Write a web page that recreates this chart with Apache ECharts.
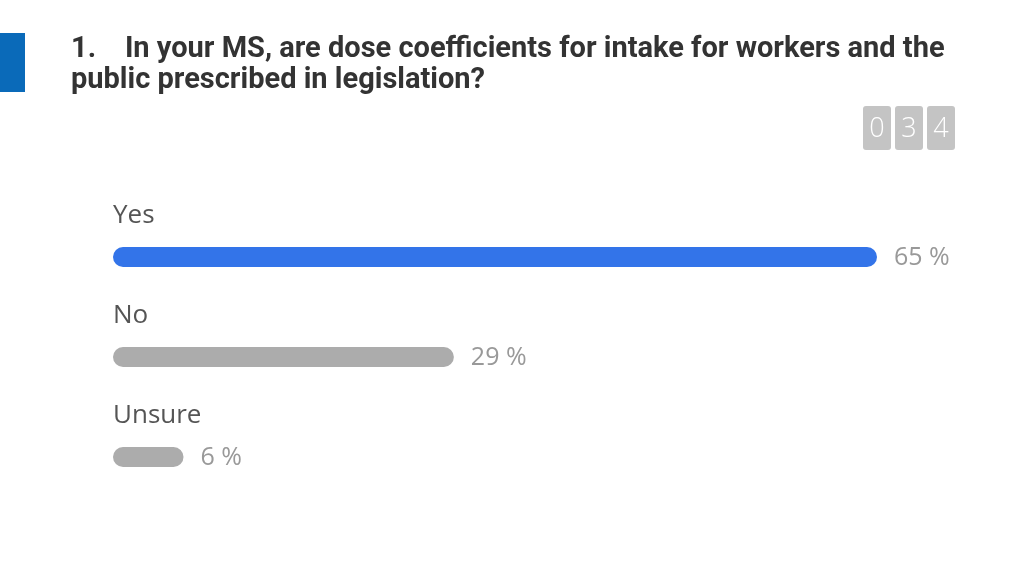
<!DOCTYPE html>
<html>
<head>
<meta charset="utf-8">
<script src="https://cdn.jsdelivr.net/npm/echarts@6/dist/echarts.min.js"></script>
<style>
  html, body { margin: 0; padding: 0; background: #fff; }
  #chart { width: 1024px; height: 576px; }
</style>
</head>
<body>
<div id="chart"></div>
<script>
const answers = ['Yes', 'No', 'Unsure'];
const shares = [65, 29, 6];
const barColors = ['#3374e9', '#acacac', '#acacac'];
const responseDigits = ['0', '3', '4'];

const chart = echarts.init(document.getElementById('chart'));

// little grey counter boxes, top right
const counter = [];
responseDigits.forEach((d, i) => {
    const x = 863 + i * 32;
    counter.push({
        type: 'rect',
        shape: { x: x, y: 106, width: 28, height: 44, r: 3 },
        style: { fill: '#c4c4c4' }
    });
    counter.push({
        type: 'text',
        x: x + 14, y: 129,
        style: {
            text: d, fill: '#fff', fontSize: 27, fontWeight: 300,
            fontFamily: 'Open Sans', align: 'center', verticalAlign: 'middle'
        }
    });
});

chart.setOption({
    animation: false,
    title: {
        text: '1.    In your MS, are dose coefficients for intake for workers and the\npublic prescribed in legislation?',
        left: 66,
        top: 29,
        textStyle: {
            fontFamily: 'Roboto',
            fontWeight: 'bold',
            fontSize: 29,
            lineHeight: 31,
            color: '#333'
        }
    },
    graphic: [
        {
            type: 'rect',
            shape: { x: 0, y: 33, width: 25, height: 59 },
            style: { fill: '#0a6ab9' }
        }
    ].concat(counter),
    grid: { left: 113, right: 147, top: 207, height: 300 },
    xAxis: {
        type: 'value',
        min: 0,
        max: 65,
        show: false
    },
    yAxis: {
        type: 'category',
        data: answers,
        inverse: true,
        axisLine: { show: false },
        axisTick: { show: false },
        axisLabel: {
            inside: true,
            margin: 0,
            align: 'left',
            verticalAlign: 'middle',
            // name sits above its bar: push it up with an empty line below
            formatter: v => '{n|' + v + '}\n{gap|}',
            rich: {
                n: {
                    color: '#555',
                    fontSize: 26,
                    lineHeight: 28,
                    fontFamily: 'Open Sans'
                },
                gap: { lineHeight: 82 }
            }
        },
        z: 10
    },
    series: [{
        type: 'bar',
        data: shares.map((v, i) => ({ value: v, itemStyle: { color: barColors[i] } })),
        barWidth: 20,
        itemStyle: { borderRadius: 10 },
        label: {
            show: true,
            position: 'right',
            distance: 17,
            formatter: '{c} %',
            color: '#999',
            fontSize: 25,
            fontFamily: 'Open Sans',
            offset: [0, 1]
        }
    }]
});
</script>
</body>
</html>
